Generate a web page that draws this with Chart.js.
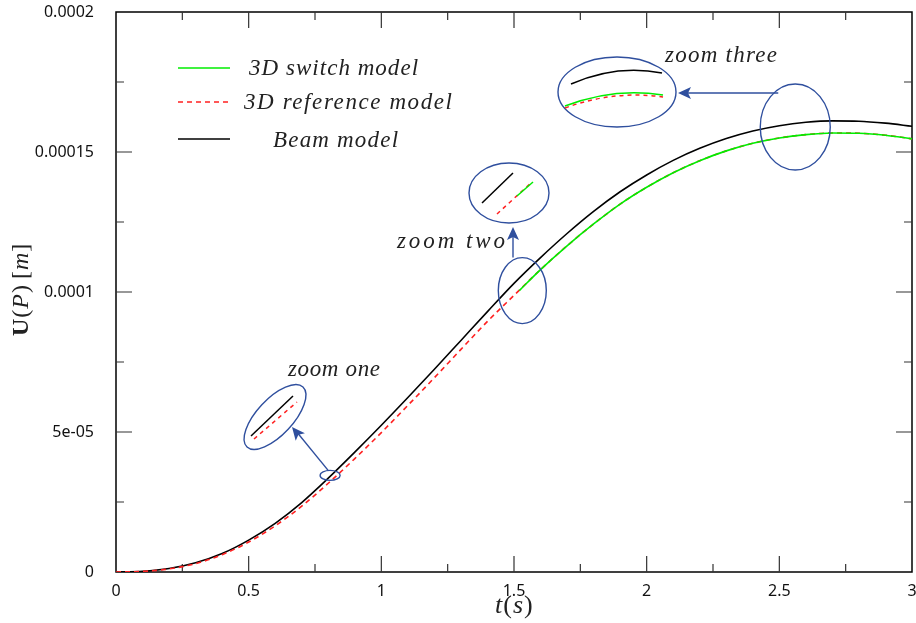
<!DOCTYPE html>
<html>
<head>
<meta charset="utf-8">
<script src="https://cdn.jsdelivr.net/npm/chart.js"></script>
<style>
  html, body { margin: 0; padding: 0; background: #fff; }
  #wrap { width: 916px; height: 623px; position: relative; }
</style>
</head>
<body>
<div id="wrap"><canvas id="dispChart"></canvas></div>
<script>
// time axis (s) and displacement values (m)
var tBeam = [0, 0.1, 0.2, 0.3, 0.4, 0.5, 0.6, 0.7, 0.8, 0.9, 1.0, 1.1, 1.2, 1.3, 1.4, 1.5,
             1.6, 1.7, 1.8, 1.9, 2.0, 2.1, 2.2, 2.3, 2.4, 2.5, 2.6, 2.7, 2.8, 2.9, 3.0];
var uBeam = [0, 0.023e-5, 0.123e-5, 0.33e-5, 0.66e-5, 1.14e-5, 1.74e-5, 2.48e-5, 3.35e-5, 4.28e-5,
             5.24e-5, 6.23e-5, 7.24e-5, 8.27e-5, 9.3e-5, 10.31e-5, 11.23e-5, 12.09e-5, 12.88e-5,
             13.58e-5, 14.18e-5, 14.7e-5, 15.13e-5, 15.48e-5, 15.75e-5, 15.94e-5, 16.06e-5,
             16.11e-5, 16.1e-5, 16.03e-5, 15.92e-5];
var tRef = tBeam;
var uRef = [0, 0.02e-5, 0.11e-5, 0.3e-5, 0.62e-5, 1.07e-5, 1.65e-5, 2.35e-5, 3.17e-5, 4.05e-5,
            4.98e-5, 5.95e-5, 6.94e-5, 7.95e-5, 8.95e-5, 9.88e-5, 10.8e-5, 11.65e-5, 12.43e-5,
            13.14e-5, 13.74e-5, 14.26e-5, 14.69e-5, 15.04e-5, 15.31e-5, 15.5e-5, 15.62e-5,
            15.68e-5, 15.67e-5, 15.6e-5, 15.47e-5];
var tSwitch = [1.52, 1.6, 1.7, 1.8, 1.9, 2.0, 2.1, 2.2, 2.3, 2.4, 2.5, 2.6, 2.7, 2.8, 2.9, 3.0];
var uSwitch = [10.05e-5, 10.8e-5, 11.65e-5, 12.43e-5, 13.14e-5, 13.74e-5, 14.26e-5, 14.69e-5,
               15.04e-5, 15.31e-5, 15.5e-5, 15.62e-5, 15.68e-5, 15.67e-5, 15.6e-5, 15.47e-5];

var xTickLabels = ['0', '0.5', '1', '1.5', '2', '2.5', '3'];
var yTickLabels = ['0', '5e-05', '0.0001', '0.00015', '0.0002'];
var seriesNames = ['3D switch model', '3D reference model', 'Beam model'];

function pts(ts, us) {
    return ts.map(function(t, i) { return { x: t, y: us[i] }; });
}

var BLUE = '#2f4f9e';
var SERIF = '"Liberation Serif", "DejaVu Serif", serif';

// text drawn with extra letter spacing so it fills a given width (LaTeX look)
function fitText(ctx, txt, x, y, w) {
    ctx.letterSpacing = '0px';
    var nat = ctx.measureText(txt).width;
    var sp = (w - nat) / Math.max(1, txt.length - 1);
    ctx.letterSpacing = sp.toFixed(2) + 'px';
    ctx.textAlign = 'left';
    ctx.fillText(txt, x, y);
    ctx.letterSpacing = '0px';
}

// mixed-style text (upright/italic/bold pieces), natural spacing
function richText(ctx, parts, x, y) {
    var cx = x;
    ctx.textAlign = 'left';
    parts.forEach(function(p) {
        ctx.font = p[0] + SERIF;
        ctx.fillText(p[1], cx, y);
        cx += ctx.measureText(p[1]).width + (p[2] || 0);
    });
}

function arrowHead(ctx, x, y, ang) {
    ctx.save();
    ctx.translate(x, y);
    ctx.rotate(ang);
    ctx.beginPath();
    ctx.moveTo(0, 0);
    ctx.lineTo(-13, -6);
    ctx.lineTo(-10, 0);
    ctx.lineTo(-13, 6);
    ctx.closePath();
    ctx.fill();
    ctx.restore();
}

var framePlugin = {
    id: 'frame',
    beforeDatasetsDraw: function(chart) {
        var ctx = chart.ctx, a = chart.chartArea;
        var xs = chart.scales.x, ys = chart.scales.y;
        ctx.save();
        ctx.strokeStyle = '#000';
        ctx.lineWidth = 1.5;
        ctx.strokeRect(a.left, a.top, a.right - a.left, a.bottom - a.top);
        ctx.lineWidth = 1.2;
        ctx.strokeStyle = '#333';
        var i, v, p, len;
        for (i = 1; i < 12; i++) {
            v = i * 0.25;
            p = xs.getPixelForValue(v);
            len = (i % 2 === 0) ? 16 : 8;
            ctx.beginPath();
            ctx.moveTo(p, a.bottom); ctx.lineTo(p, a.bottom - len);
            ctx.moveTo(p, a.top); ctx.lineTo(p, a.top + len);
            ctx.stroke();
        }
        for (i = 1; i < 8; i++) {
            v = i * 0.000025;
            p = ys.getPixelForValue(v);
            len = (i % 2 === 0) ? 16 : 8;
            ctx.beginPath();
            ctx.moveTo(a.left, p); ctx.lineTo(a.left + len, p);
            ctx.moveTo(a.right, p); ctx.lineTo(a.right - len, p);
            ctx.stroke();
        }
        // axis titles
        ctx.fillStyle = '#222';
        ctx.textBaseline = 'alphabetic';
        richText(ctx, [['italic 26px ', 't', 1], ['26px ', '(', 1], ['italic 26px ', 's', 1], ['26px ', ')']],
                 495, 613);

        ctx.save();
        ctx.translate(28, 336);
        ctx.rotate(-Math.PI / 2);
        richText(ctx, [['bold 24px ', 'U', 1], ['24px ', '(', 1], ['italic 24px ', 'P', 1], ['24px ', ')', 6],
                       ['24px ', '[', 1], ['italic 24px ', 'm', 1], ['24px ', ']']], 0, 0);
        ctx.restore();
        ctx.restore();
    },
    afterDatasetsDraw: function(chart) {
        var ctx = chart.ctx;
        var xs = chart.scales.x, ys = chart.scales.y;
        function P(t, u) { return [xs.getPixelForValue(t), ys.getPixelForValue(u)]; }
        ctx.save();

        // legend
        var legY = [68, 102, 139];
        var legCol = ['#00ee00', '#ff2020', '#000'];
        var legTxt = [[249, 75, 169], [244, 109, 208], [273, 147, 125]];
        for (var i = 0; i < 3; i++) {
            ctx.beginPath();
            ctx.strokeStyle = legCol[i];
            ctx.lineWidth = 1.5;
            ctx.setLineDash(i === 1 ? [5, 4] : []);
            ctx.moveTo(178, legY[i]); ctx.lineTo(230, legY[i]);
            ctx.stroke();
            ctx.setLineDash([]);
            ctx.fillStyle = '#222';
            ctx.font = 'italic 23px ' + SERIF;
            ctx.textBaseline = 'alphabetic';
            fitText(ctx, seriesNames[i], legTxt[i][0], legTxt[i][1], legTxt[i][2]);
        }

        ctx.strokeStyle = BLUE;
        ctx.fillStyle = BLUE;
        ctx.lineWidth = 1.4;
        function ell(x, y, rx, ry, rot) {
            ctx.beginPath();
            ctx.ellipse(x, y, rx, ry, rot || 0, 0, Math.PI * 2);
            ctx.stroke();
        }
        function seg(x1, y1, x2, y2, col, dash, bend) {
            ctx.save();
            ctx.strokeStyle = col;
            ctx.lineWidth = 1.5;
            ctx.setLineDash(dash ? [4, 4] : []);
            ctx.beginPath();
            ctx.moveTo(x1, y1);
            if (bend) ctx.quadraticCurveTo((x1 + x2) / 2, Math.min(y1, y2) + bend, x2, y2);
            else ctx.lineTo(x2, y2);
            ctx.stroke();
            ctx.restore();
        }

        // zoom one
        var s1 = P(0.807, 3.45e-5);
        ell(s1[0], s1[1], 10, 5);
        ell(275, 417, 41, 18, -0.82);
        seg(251, 436, 293, 396, '#000');
        seg(254, 439, 297, 402, '#ff2020', true);
        ctx.beginPath();
        ctx.moveTo(s1[0] - 2, s1[1] - 5); ctx.lineTo(296, 431);
        ctx.stroke();
        arrowHead(ctx, 292, 427, Math.atan2(427 - (s1[1] - 5), 292 - (s1[0] - 2)));

        // zoom two
        var s2 = P(1.52, 10.05e-5);
        ell(s2[0] + 3, s2[1], 24, 33);
        ell(509, 193, 40, 30);
        seg(482, 203, 513, 173, '#000');
        seg(497, 214, 532, 182, '#ff2020', true);
        seg(517, 196, 533, 182, '#00ee00');
        ctx.beginPath();
        ctx.moveTo(513, s2[1] - 33); ctx.lineTo(513, 236);
        ctx.stroke();
        arrowHead(ctx, 513, 227, -Math.PI / 2);

        // zoom three
        var s3 = P(2.56, 15.75e-5);
        ell(s3[0], s3[1] - 4, 35, 43);
        ell(617, 92, 59, 35);
        seg(571, 84, 662, 73, '#000', false, -9);
        seg(565, 106, 663, 95, '#00ee00', false, -8);
        seg(565, 108, 663, 97, '#ff2020', true, -7);
        ctx.beginPath();
        ctx.moveTo(s3[0] - 17, 93); ctx.lineTo(688, 93);
        ctx.stroke();
        arrowHead(ctx, 678, 93, Math.PI);

        ctx.fillStyle = '#222';
        ctx.font = 'italic 23px ' + SERIF;
        fitText(ctx, 'zoom one', 288, 376, 92);
        fitText(ctx, 'zoom two', 397, 248, 108);
        fitText(ctx, 'zoom three', 665, 62, 112);
        ctx.restore();
    }
};

function noPad(s) {
    s.paddingTop = 0; s.paddingBottom = 0; s.paddingLeft = 0; s.paddingRight = 0;
}

document.addEventListener('DOMContentLoaded', function() {
    var ctx = document.getElementById('dispChart').getContext('2d');
    var dispChart = new Chart(ctx, {
        type: 'line',
        data: {
            datasets: [
                { label: seriesNames[0], data: pts(tSwitch, uSwitch), borderColor: '#00ee00',
                  borderWidth: 1.6, pointRadius: 0, cubicInterpolationMode: 'monotone', fill: false },
                { label: seriesNames[1], data: pts(tRef, uRef), borderColor: '#ff2020',
                  borderWidth: 1.6, borderDash: [5, 4], pointRadius: 0,
                  cubicInterpolationMode: 'monotone', fill: false },
                { label: seriesNames[2], data: pts(tBeam, uBeam), borderColor: '#000',
                  borderWidth: 1.6, pointRadius: 0, cubicInterpolationMode: 'monotone', fill: false }
            ]
        },
        options: {
            responsive: true,
            maintainAspectRatio: false,
            animation: false,
            layout: { padding: { top: 12, right: 4, left: 0, bottom: 0 } },
            plugins: {
                legend: { display: false },
                tooltip: { enabled: false }
            },
            scales: {
                x: {
                    type: 'linear', min: 0, max: 3,
                    grid: { display: false, drawTicks: false },
                    border: { display: false },
                    afterFit: function(s) { s.height = 51; noPad(s); },
                    ticks: {
                        stepSize: 0.5, padding: 10, maxRotation: 0, color: '#111',
                        font: { family: '"Noto Sans", sans-serif', size: 16 },
                        callback: function(v, i) { return xTickLabels[i]; }
                    }
                },
                y: {
                    type: 'linear', min: 0, max: 0.0002,
                    grid: { display: false, drawTicks: false },
                    border: { display: false },
                    afterFit: function(s) { s.width = 116; noPad(s); },
                    ticks: {
                        stepSize: 0.00005, padding: 22, color: '#111',
                        font: { family: '"Noto Sans", sans-serif', size: 16 },
                        callback: function(v, i) { return yTickLabels[i]; }
                    }
                }
            }
        },
        plugins: [framePlugin]
    });
});
</script>
</body>
</html>
